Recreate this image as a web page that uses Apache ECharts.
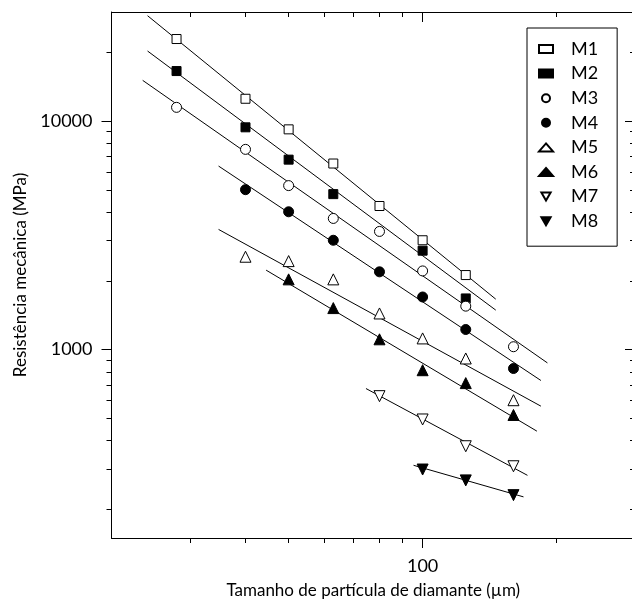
<!DOCTYPE html>
<html>
<head>
<meta charset="utf-8">
<script src="https://cdn.jsdelivr.net/npm/echarts@6/dist/echarts.min.js"></script>
<style>html,body{margin:0;background:#fff}#chart{width:632px;height:600px}</style>
</head>
<body>
<div id="chart"></div>
<script>
'use strict';
// tamanho de partícula (µm)
var sizes = [28, 40, 50, 63, 80, 100, 125, 160];
var names = ['M1', 'M2', 'M3', 'M4', 'M5', 'M6', 'M7', 'M8'];
// resistência mecânica (MPa), null = sem ponto
var m1 = [22850, 12520, 9200, 6520, 4250, 3010, 2120, null];
var m2 = [16550, 9390, 6780, 4790, null, 2710, 1675, null];
var m3 = [11480, 7520, 5220, 3750, 3290, 2210, 1550, 1030];
var m4 = [null, 5010, 4010, 3010, 2190, 1700, 1225, 827];
var m5 = [null, 2550, 2440, 2030, 1440, 1120, 915, 601];
var m6 = [null, null, 2030, 1520, 1110, 813, 714, 518];
var m7 = [null, null, null, null, 626, 495, 378, 309];
var m8 = [null, null, null, null, null, 299, 268, 231];
// retas ajustadas: [x, y] inicio e fim
var fit1 = [[24.1, 28900], [146, 1663]];
var fit2 = [[24.1, 20250], [146, 1489]];
var fit3 = [[23.5, 15070], [190.7, 875]];
var fit4 = [[34.8, 6355], [184.4, 733]];
var fit5 = [[34.8, 3357], [184.4, 566]];
var fit6 = [[44.5, 2228], [180.6, 440]];
var fit7 = [[74.6, 676], [172, 282]];
var fit8 = [[95.4, 312], [168.5, 227]];
// eixos
var xRange = [20, 300];
var yRange = [150, 30000];
var xMajor = [100];
var xMinor = [30, 40, 50, 60, 70, 80, 90, 200];
var yMajor = [1000, 10000];
var yMinor = [200, 300, 400, 500, 600, 700, 800, 900, 2000, 3000, 4000, 5000, 6000, 7000, 8000, 9000, 20000];

var allY = [m1, m2, m3, m4, m5, m6, m7, m8];
var allFit = [fit1, fit2, fit3, fit4, fit5, fit6, fit7, fit8];
var symbols = ['rect', 'rect', 'circle', 'circle', 'triangle', 'triangle', 'triangle', 'triangle'];
var filled = [false, true, false, true, false, true, false, true];
var symSize = [9, 9, 10, 10, 11, 11, 11, 11];
var rotate = [0, 0, 0, 0, 0, 0, 180, 180];
var downTri = 'path://M0,0L2,0L1,1.732Z';

function lg(v) { return Math.log10(v); }
var fontFam = 'Lato, "Open Sans", sans-serif';

function makeAxis(pos, range, ticks, len, inside, showLine, labels, extra) {
    var a = {
        type: 'value',
        position: pos,
        min: lg(range[0]),
        max: lg(range[1]),
        splitLine: { show: false },
        axisLine: { show: showLine, onZero: false, lineStyle: { color: '#000', width: 1 } },
        axisTick: { show: true, inside: inside, length: len, customValues: ticks.map(lg), lineStyle: { color: '#000', width: 1 } },
        axisLabel: labels ? {
            show: true,
            customValues: labels.map(lg),
            formatter: function (v) { return String(Math.round(Math.pow(10, v))); },
            color: '#000', fontSize: 18, fontFamily: fontFam, margin: 19
        } : { show: false }
    };
    if (extra) { for (var k in extra) a[k] = extra[k]; }
    return a;
}

var xName = {
    name: 'Tamanho de partícula de diamante (µm)',
    nameLocation: 'middle', nameGap: 44,
    nameTextStyle: { color: '#000', fontSize: 17, fontFamily: fontFam }
};
var yName = {
    name: 'Resistência mecânica (MPa)',
    nameLocation: 'middle', nameGap: 76, nameRotate: 90,
    nameTextStyle: { color: '#000', fontSize: 17, fontFamily: fontFam }
};

var xAxes = [
    makeAxis('bottom', xRange, xMinor, 5, false, true, xMajor, xName),
    makeAxis('bottom', xRange, xMajor, 10, false, false, null),
    makeAxis('top', xRange, xMinor, 5, true, true, null),
    makeAxis('top', xRange, xMajor, 10, true, false, null)
];
var yAxes = [
    makeAxis('left', yRange, yMinor, 5, false, true, yMajor, yName),
    makeAxis('left', yRange, yMajor, 10, false, false, null),
    makeAxis('right', yRange, yMinor, 5, true, true, null),
    makeAxis('right', yRange, yMajor, 10, true, false, null)
];

var series = [];
for (var i = 0; i < names.length; i++) {
    series.push({
        type: 'line',
        data: allFit[i].map(function (p) { return [lg(p[0]), lg(p[1])]; }),
        showSymbol: false, symbol: 'none', silent: true, z: 2,
        lineStyle: { color: '#000', width: 1 }
    });
}
for (var j = 0; j < names.length; j++) {
    var pts = [];
    for (var k = 0; k < sizes.length; k++) {
        if (allY[j][k] != null) pts.push([lg(sizes[k]), lg(allY[j][k])]);
    }
    series.push({
        type: 'scatter',
        name: names[j],
        data: pts,
        symbol: symbols[j],
        symbolSize: symSize[j],
        symbolRotate: rotate[j],
        z: 3,
        itemStyle: {
            color: filled[j] ? '#000' : '#fff',
            borderColor: '#000',
            borderWidth: 1,
            opacity: 1
        }
    });
}

var legendData = names.map(function (n, idx) {
    return rotate[idx] ? { name: n, icon: downTri } : { name: n };
});

var chart = echarts.init(document.getElementById('chart'), null, { renderer: 'canvas' });
chart.setOption({
    backgroundColor: '#fff',
    animation: false,
    grid: { left: 111.5, right: -3, top: 12, bottom: 62, containLabel: false, outerBoundsMode: 'none' },
    xAxis: xAxes,
    yAxis: yAxes,
    legend: {
        data: legendData,
        orient: 'vertical',
        left: 527, top: 28,
        padding: [12, 19, 16, 11],
        itemWidth: 14, itemHeight: 8, itemGap: 6.6,
        borderColor: '#000', borderWidth: 1,
        backgroundColor: '#fff',
        selectedMode: false,
        textStyle: { color: '#000', fontSize: 18, fontFamily: fontFam, padding: [0, 0, 0, 13] }
    },
    series: series
});
</script>
</body>
</html>
